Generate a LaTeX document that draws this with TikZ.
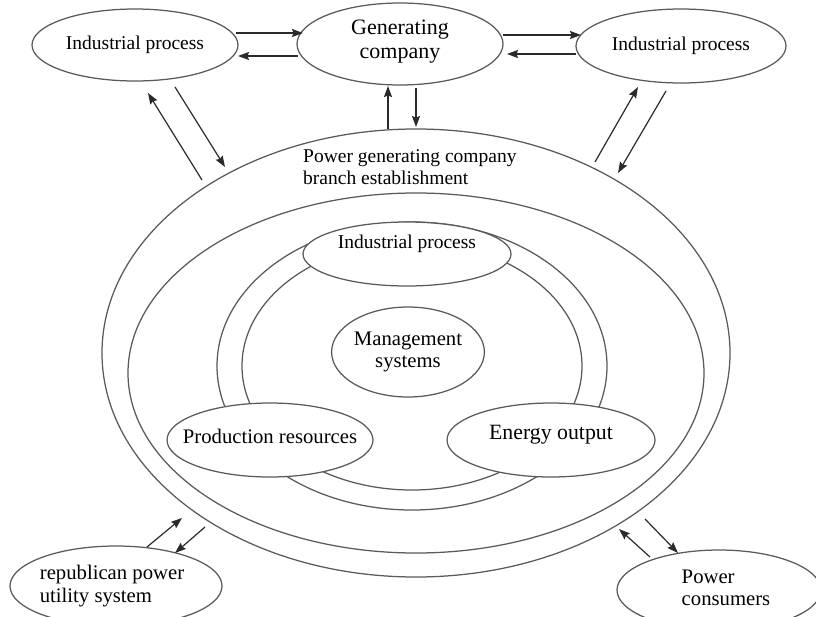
\documentclass[tikz,border=0pt]{standalone}
\usepackage{fontspec}
\setmainfont{Liberation Serif}
\usetikzlibrary{arrows.meta,shapes.geometric}
\definecolor{lg}{HTML}{5A5A5A}
\definecolor{ag}{HTML}{2A2A2A}
\begin{document}
\begin{tikzpicture}[x=1pt,y=-1pt,
  ell/.style={draw=lg, line width=1.25pt, ellipse, inner sep=0pt, align=center},
  wfill/.style={fill=white},
  ringline/.style={draw=lg, line width=1.25pt},
  arr/.style={draw=ag, line width=1.2pt, -{Stealth[length=11pt,width=8pt,inset=1.5pt]}},
  fa/.style={font=\fontsize{19.5}{22}\selectfont},
  fb/.style={font=\fontsize{20.7}{22.5}\selectfont},
  fc/.style={font=\fontsize{22}{24}\selectfont},
]
\useasboundingbox (0,0) rectangle (816,616);
\fill[white] (0,0) rectangle (816,616);

% big establishment ellipses
\node[ell, minimum width=628pt, minimum height=448pt] (outer) at (416,353) {};
\node[ell, minimum width=576pt, minimum height=360pt] (second) at (416,373) {};
\node[fa, anchor=west, align=left, inner sep=0pt] (outerlabel) at (303,167) {Power generating company\\branch establishment};

% ring
\draw[ringline] (412,366) ellipse [x radius=195, y radius=144];
\draw[ringline] (412,366) ellipse [x radius=170, y radius=124];

% inner nodes
\node[ell, wfill, minimum width=208pt, minimum height=64pt,
      label={[fa, yshift=10pt]center:Industrial process}] (ip) at (407,254) {};
\node[ell, wfill, minimum width=150pt, minimum height=90pt, fb] (ms) at (408,352) {Management\\systems};
\node[ell, wfill, minimum width=206pt, minimum height=74pt,
      label={[fb, yshift=4pt]center:Production resources}] (pr) at (270,440) {};
\node[ell, wfill, minimum width=208pt, minimum height=74pt,
      label={[font=\fontsize{21.8}{24}\selectfont, yshift=5pt]center:Energy output}] (eo) at (551,440) {};

% top nodes
\node[ell, wfill, minimum width=206pt, minimum height=72pt, fa] (tl) at (135,45) {Industrial process};
\node[ell, wfill, minimum width=206pt, minimum height=82pt,
      label={[fc, align=center, yshift=2pt]center:Generating\\company}] (gen) at (400,44) {};
\node[ell, wfill, minimum width=210pt, minimum height=74pt, fa] (tr) at (681,46) {Industrial process};

% bottom nodes
\node[ell, wfill, minimum width=212pt, minimum height=80pt,
      label={[fb, align=left, xshift=-4pt]center:republican power\\utility system}] (rep) at (116,586) {};
\node[ell, wfill, minimum width=204pt, minimum height=80pt,
      label={[fb, align=left, xshift=7pt, yshift=2pt]center:Power\\consumers}] (pc) at (719,590) {};

% arrow end points
\coordinate (a1s) at (236,33);  \coordinate (a1e) at (303,33);
\coordinate (a2s) at (298,56);  \coordinate (a2e) at (238,56);
\coordinate (a3s) at (503,35);  \coordinate (a3e) at (581,35);
\coordinate (a4s) at (576,54);  \coordinate (a4e) at (507,54);
\coordinate (a5s) at (388,129); \coordinate (a5e) at (388,86);
\coordinate (a6s) at (416,88);  \coordinate (a6e) at (416,127);
\coordinate (a7s) at (202,180); \coordinate (a7e) at (148,93);
\coordinate (a8s) at (175,87);  \coordinate (a8e) at (225,167);
\coordinate (a9s) at (595,162); \coordinate (a9e) at (638,87);
\coordinate (a10s) at (666,91); \coordinate (a10e) at (618,173);
\coordinate (a11s) at (147,547); \coordinate (a11e) at (182,518);
\coordinate (a12s) at (205,527); \coordinate (a12e) at (175,553);
\coordinate (a13s) at (650,557); \coordinate (a13e) at (619,529);
\coordinate (a14s) at (645,519); \coordinate (a14e) at (678,553);

\draw[arr] (a1s) -- (a1e);
\draw[arr] (a2s) -- (a2e);
\draw[arr] (a3s) -- (a3e);
\draw[arr] (a4s) -- (a4e);
\draw[arr] (a5s) -- (a5e);
\draw[arr] (a6s) -- (a6e);
\draw[arr] (a7s) -- (a7e);
\draw[arr] (a8s) -- (a8e);
\draw[arr] (a9s) -- (a9e);
\draw[arr] (a10s) -- (a10e);
\draw[arr] (a11s) -- (a11e);
\draw[arr] (a12s) -- (a12e);
\draw[arr] (a13s) -- (a13e);
\draw[arr] (a14s) -- (a14e);
\end{tikzpicture}
\end{document}
